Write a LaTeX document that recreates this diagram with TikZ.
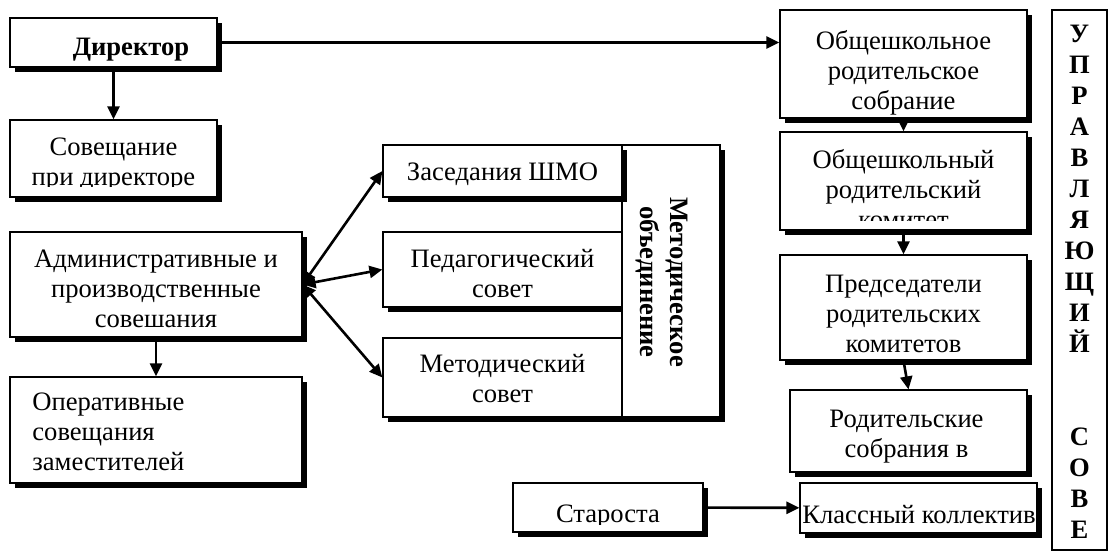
\documentclass[tikz,border=0pt]{standalone}
\usepackage{fontspec}
\setmainfont{Liberation Serif}
\usetikzlibrary{arrows.meta,shadows}

\begin{document}
\begin{tikzpicture}[
    x=0.5pt, y=-0.5pt,
    box/.style={
        rectangle,
        draw=black,
        line width=0.6pt,
        fill=white,
        inner sep=0pt,
        drop shadow={shadow xshift=2.5pt, shadow yshift=-2.5pt, opacity=1, fill=black}
    },
    txt/.style={inner sep=0pt, align=center, anchor=north, font=\fontsize{13.3}{15}\selectfont},
    bold/.style={txt, font=\fontsize{13.3}{15}\selectfont\bfseries},
    arrow/.style={-{Triangle[length=6.5pt,width=6pt]}, line width=1.3pt},
    dbl/.style={{Triangle[length=6.5pt,width=6pt]}-{Triangle[length=6.5pt,width=6pt]}, line width=1.3pt}
]
\useasboundingbox (0,0) rectangle (1109,551);

% left column
\node[box, minimum width=103.5pt, minimum height=24.5pt] (dir) at (113.5,42.5) {};
\node[bold] (dirt) at (131,37.2) {Директор};

\node[box, minimum width=103.5pt, minimum height=38.5pt] (sov) at (113.5,158.5) {};
\begin{scope}
    \clip (sov.north west) rectangle ([yshift=5.5pt]sov.south east);
    \node[txt] (sovt) at (113.5,137.2) {Совещание\\при директоре};
\end{scope}

\node[box, minimum width=146pt, minimum height=52.5pt] (adm) at (156,284.5) {};
\node[txt] (admt) at (156,249.2) {Административные и\\производственные\\совешания};

\node[box, minimum width=146pt, minimum height=53pt] (oper) at (156,430) {};
\node[txt, anchor=north west, align=left] (opert) at (32,392.2) {Оперативные\\совещания\\заместителей};

% methodical block
\node[box, minimum width=119.5pt, minimum height=37.5pt] (ped) at (502.5,269.5) {};
\node[txt] (pedt) at (502.5,249.2) {Педагогический\\совет};

\node[box, minimum width=119.5pt, minimum height=39.5pt] (met) at (502.5,377.5) {};
\node[txt] (mett) at (502.5,354.2) {Методический\\совет};

\node[box, minimum width=49pt, minimum height=136pt] (mo) at (671,281) {};
\node[bold, anchor=center, rotate=-90] (mot) at (662,282) {Методическое\\объединение};

\node[box, minimum width=119.5pt, minimum height=26pt] (shmo) at (502.5,171) {};
\node[txt] (shmot) at (502.5,162.2) {Заседания ШМО};

% parents
\node[box, minimum width=123.5pt, minimum height=54pt] (obsh) at (903.5,64) {};
\node[txt] (obsht) at (903.5,30.2) {Общешкольное\\родительское\\собрание};

\node[box, minimum width=123.5pt, minimum height=49pt] (kom) at (903.5,181) {};
\begin{scope}
    \clip (kom.north west) rectangle ([yshift=5pt]kom.south east);
    \node[txt] (komt) at (903.5,149.2) {Общешкольный\\родительский\\комитет};
\end{scope}

\node[box, minimum width=123.5pt, minimum height=52.5pt] (pred) at (903.5,307.5) {};
\node[txt] (predt) at (903.5,274.2) {Председатели\\родительских\\комитетов};

\node[box, minimum width=118.5pt, minimum height=41pt] (rod) at (908.5,431) {};
\node[txt] (rodt) at (906.5,409.2) {Родительские\\собрания в};

\node[box, minimum width=95pt, minimum height=24.5pt] (star) at (608,507.5) {};
\begin{scope}
    \clip (star.north west) rectangle ([yshift=4pt]star.south east);
    \node[txt] (start) at (608,504.2) {Староста};
\end{scope}

\node[box, minimum width=118.5pt, minimum height=25pt] (klass) at (918.5,508) {};
\begin{scope}
    \clip (klass.north west) rectangle ([xshift=-1pt]klass.south east);
    \node[txt, anchor=north west] (klasst) at (802,505.2) {Классный коллектив};
\end{scope}

% council
\node[draw, line width=0.6pt, inner sep=0pt, minimum width=27.5pt, minimum height=270pt] (upr) at (1079.5,280) {};
\foreach \ltr [count=\i from 0] in {У,П,Р,А,В,Л,Я,Ю,Щ,И,Й}
    \node[bold, anchor=base] (u\i) at (1079.5,{42.5+31*\i}) {\ltr};
\foreach \ltr [count=\i from 13] in {С,О,В,Е}
    \node[bold, anchor=base] (u\i) at (1079.5,{42.5+31*\i}) {\ltr};

% connections
\draw[arrow] (dir.east) -- (dir.east -| obsh.west);
\draw[arrow] (dir) -- (sov);
\draw[arrow] (adm) -- (oper);
\draw[dbl] (adm.east) -- (shmo.west);
\draw[dbl] (adm.east) -- (ped.west);
\draw[dbl] (adm.east) -- (met.west);
\draw[arrow] (obsh) -- (kom);
\draw[arrow] (kom) -- (pred);
\draw[arrow] (pred.south) -- (rod.north);
\draw[arrow] (star) -- (klass);

\end{tikzpicture}
\end{document}
